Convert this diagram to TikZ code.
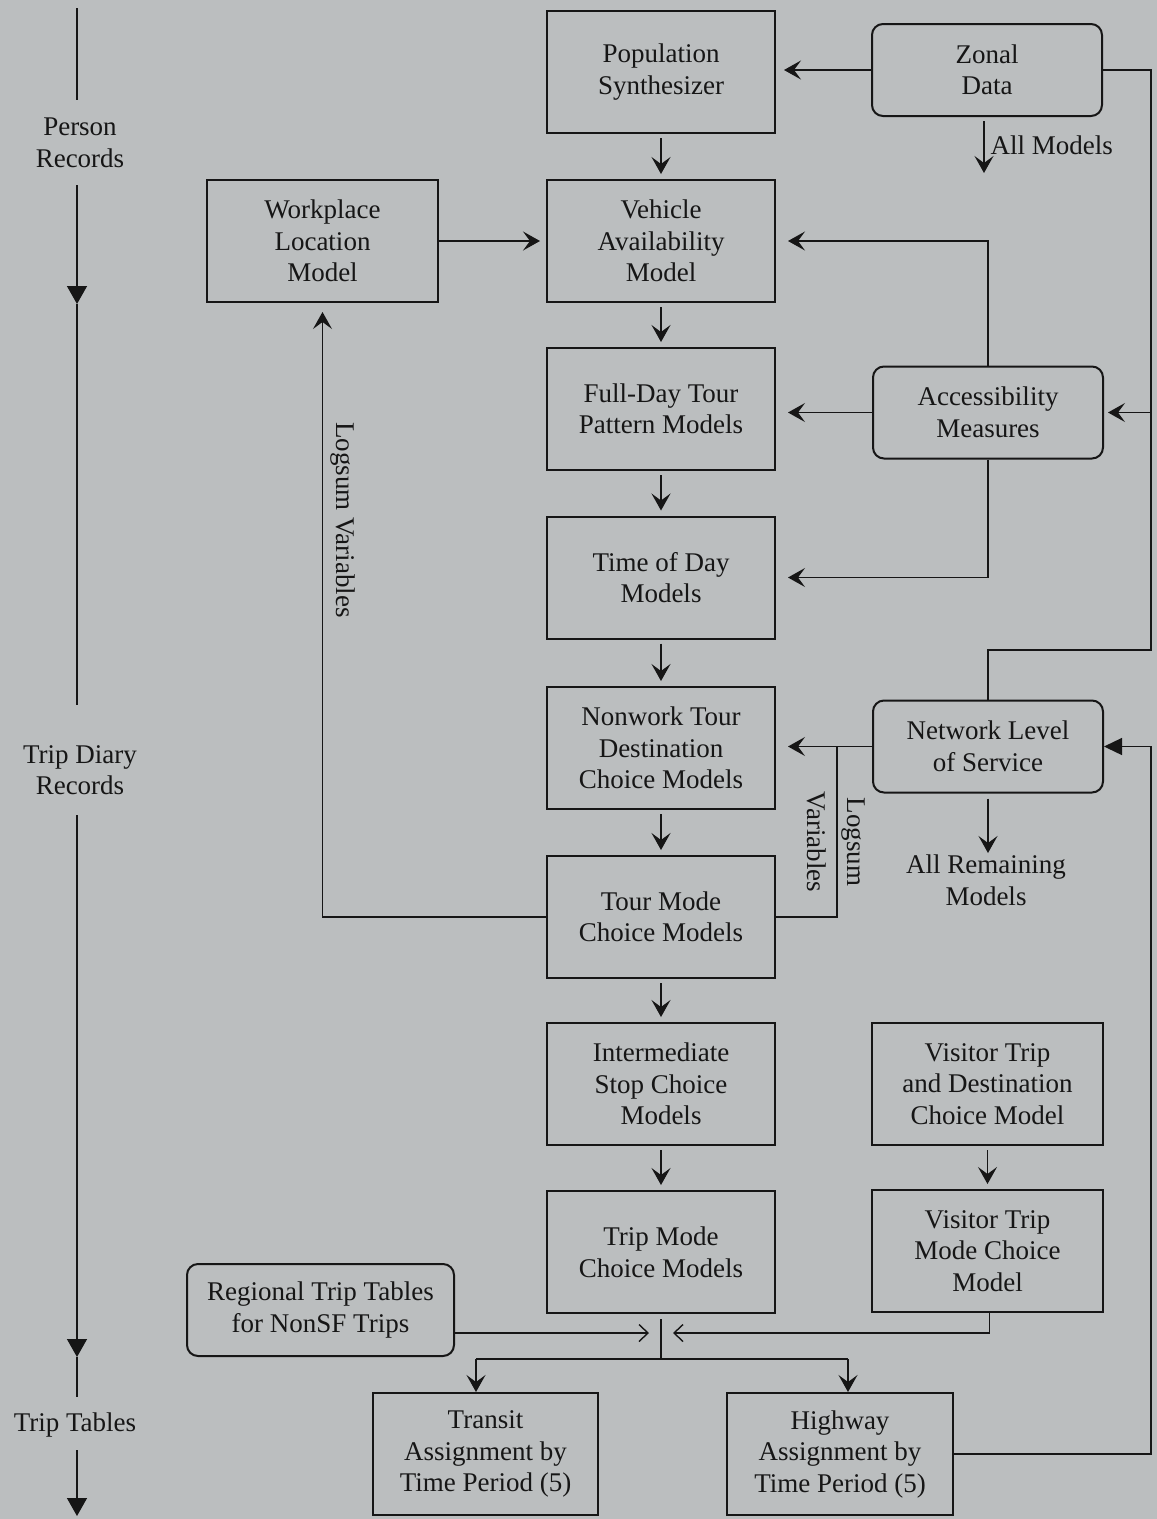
\documentclass[tikz,border=0pt]{standalone}
\usepackage{fontspec}
\setmainfont{Liberation Serif}
\usetikzlibrary{arrows.meta}
\definecolor{paper}{RGB}{187,190,191}
\definecolor{ink}{RGB}{22,22,22}
\newcommand\boxfont{\fontsize{27}{31.5}\selectfont}
\begin{document}
\begin{tikzpicture}[x=1pt,y=-1pt,
  box/.style={draw=ink, line width=2pt, minimum width=228pt, minimum height=122pt,
    inner sep=0pt, align=center, font=\boxfont, text=ink},
  rbox/.style={box, rounded corners=11pt, minimum height=92pt, minimum width=230pt},
  lbl/.style={font=\boxfont, text=ink, align=center},
  conn/.style={draw=ink, line width=1.4pt},
  arr/.style={conn, -{Stealth[length=17pt,width=19pt,inset=7pt]}},
  barb/.style={conn, -{Straight Barb[length=9pt,width=17pt]}},
  tri/.style={conn, -{Triangle[length=18pt,width=20pt]}},
  netarr/.style={conn, -{Triangle[length=18pt,width=17pt]}}]

% page
\fill[paper] (0,0) rectangle (1157,1519);
\useasboundingbox (0,0) rectangle (1157,1519);

% model boxes
\node[box] (pop) at (661,72) {Population\\Synthesizer};
\node[rbox] (zonal) at (987,70) {Zonal\\Data};
\node[box] (veh) at (661,241) {Vehicle\\Availability\\Model};
\node[box, minimum width=231pt] (work) at (322.5,241) {Workplace\\Location\\Model};
\node[box] (full) at (661,409) {Full-Day Tour\\Pattern Models};
\node[rbox] (acc) at (988,412.5) {Accessibility\\Measures};
\node[box] (tod) at (661,577.5) {Time of Day\\Models};
\node[box] (nonwork) at (661,748) {Nonwork Tour\\Destination\\Choice Models};
\node[rbox] (net) at (988,746.5) {Network Level\\of Service};
\node[box] (tour) at (661,917) {Tour Mode\\Choice Models};
\node[box] (inter) at (661,1084) {Intermediate\\Stop Choice\\Models};
\node[box, minimum width=231pt] (vdest) at (987.5,1084) {Visitor Trip\\and Destination\\Choice Model};
\node[box] (trip) at (661,1252) {Trip Mode\\Choice Models};
\node[box, minimum width=231pt] (vmode) at (987.5,1251) {Visitor Trip\\Mode Choice\\Model};
\node[rbox, minimum width=267pt] (reg) at (320.5,1310) {Regional Trip Tables\\for NonSF Trips};
\node[box, minimum width=225pt] (transit) at (485.5,1454) {Transit\\Assignment by\\Time Period (5)};
\node[box, minimum width=226pt] (highway) at (840,1454) {Highway\\Assignment by\\Time Period (5)};

% record timeline on the left
\node[lbl] (person) at (80,143) {Person\\Records};
\node[lbl] (diary) at (80,770) {Trip Diary\\Records};
\node[lbl] (tables) at (75,1425) {Trip Tables};
\coordinate (t0) at (77,8);
\coordinate (t1) at (77,100);
\coordinate (t2) at (77,185);
\coordinate (t3) at (77,304);
\coordinate (t4) at (77,705);
\coordinate (t5) at (77,815);
\coordinate (t6) at (77,1357);
\coordinate (t7) at (77,1397);
\coordinate (t8) at (77,1450);
\coordinate (t9) at (77,1516);
\draw[conn] (t0) -- (t1);
\draw[tri] (t2) -- (t3);
\draw[conn] (t3) -- (t4);
\draw[tri] (t5) -- (t6);
\draw[conn] (t6) -- (t7);
\draw[tri] (t8) -- (t9);

% main model chain
\foreach \a/\b in {pop/veh, veh/full, full/tod, tod/nonwork, nonwork/tour,
                   tour/inter, inter/trip, vdest/vmode}
  \draw[arr, shorten <=4pt, shorten >=5pt] (\a.south) -- (\b.north);

\draw[arr, shorten >=8pt] (zonal.west) -- (zonal.west -| pop.east);
\draw[arr, shorten >=6pt] (work.east) -- (veh.west);

% zonal data outputs
\draw[arr, shorten <=4pt] ([xshift=-3pt]zonal.south) -- ++(0,56)
  node[lbl, midway, right, inner sep=6pt] (allm) {All Models};
\coordinate (r1) at (1151,70);
\coordinate (r2) at (1151,650);
\draw[conn] (zonal.east) -- (r1) -- (r2) -| (net.north);
\draw[arr, shorten >=4pt] (r1 |- acc.east) -- (acc.east);

% accessibility measures feed three models
\draw[arr, shorten >=12pt] (acc.north) |- (veh.east);
\draw[arr, shorten >=12pt] (acc.west) -- (acc.west -| full.east);
\draw[arr, shorten >=12pt] (acc.south) |- (tod.east);

% network level of service
\draw[arr, shorten >=12pt] (net.west) -- (net.west -| nonwork.east);
\node[lbl, anchor=north, inner sep=2pt] (rem) at (986,853) {All Remaining\\Models};
\draw[arr, shorten <=5pt] (net.south) -- (net.south |- rem.north);

% logsum feedback from tour mode choice
\coordinate (lj) at (837,746.5);
\draw[conn] (tour.east) -| (lj);
\node[lbl, rotate=-90] (ls2) at (836,842) {Logsum\\[8pt]Variables};
\draw[arr, shorten >=9pt] (tour.west) -| (work.south);
\node[lbl, rotate=-90] (ls1) at (343,520) {Logsum Variables};

% trip tables merge and assignment
\coordinate (mj) at (661,1359);
\coordinate (ml) at (649,1333);
\coordinate (mr) at (673,1333);
\coordinate (tl) at (476,1359);
\coordinate (hr) at (848,1359);
\draw[conn, shorten <=5pt] (trip.south) -- (mj);
\draw[barb] (reg.east |- ml) -- (ml);
\draw[barb] ([xshift=2pt]vmode.south) |- (mr);
\draw[conn] (tl) -- (hr);
\draw[arr] (tl) -- (tl |- transit.north);
\draw[arr] (hr) -- (hr |- highway.north);

% assignment skims back to network level of service
\coordinate (r3) at (1151,1454);
\draw[netarr] (highway.east) -- (r3) |- (net.east);
\end{tikzpicture}
\end{document}
